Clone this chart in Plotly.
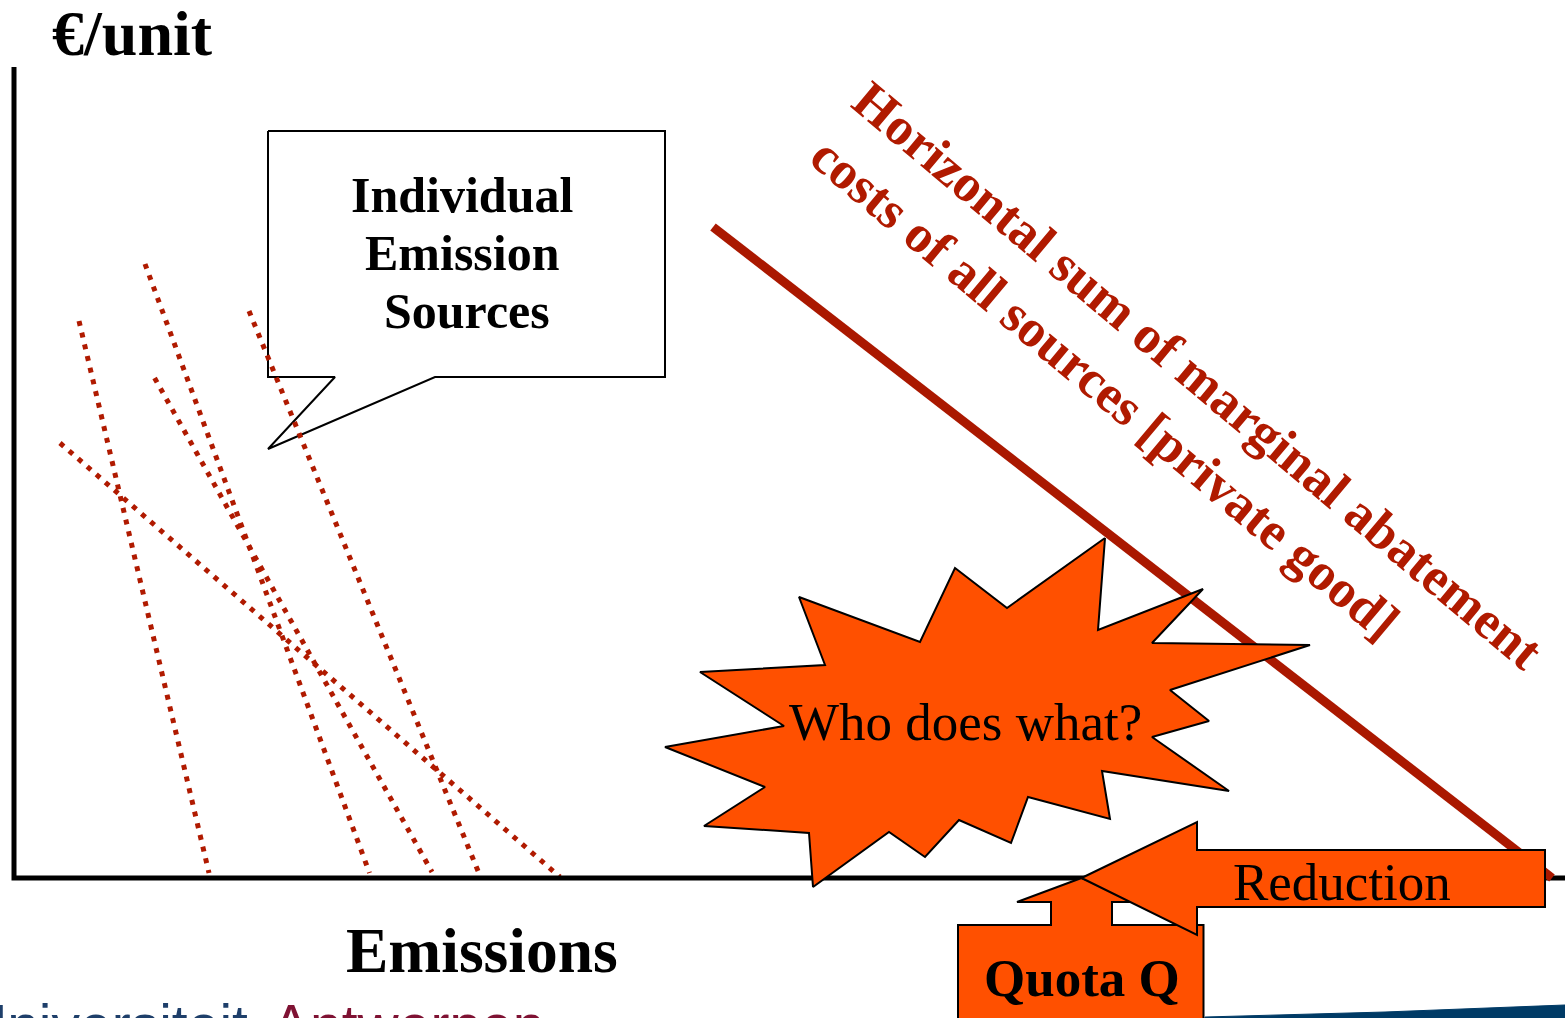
import plotly.graph_objects as go

# ---- data (emissions on x, euro/unit on y) ----
source_names = ["Source 1", "Source 2", "Source 3", "Source 4", "Source 5"]
source_emis = [[65, 195], [131, 355.5], [140.6, 418], [235, 466.5], [46, 546]]
source_cost = [[557, 5], [614, 5], [500, 6], [567, 1], [435, 1]]

total_emis = [699, 1538]
total_cost = [651, 0]

callout_x = [254, 651, 651, 421, 254, 321, 254, 254]
callout_y = [747, 747, 501, 501, 429, 501, 501, 747]

star_x = [1091, 1084, 1189, 1138, 1296, 1156, 1195, 1138, 1215, 1088, 1096, 1014, 997, 945,
          911, 875, 799, 795, 690, 751, 651, 770, 686, 811, 785, 906, 941, 993, 1091]
star_y = [340, 248, 289, 235, 233, 188, 157, 141, 87, 107, 59, 81, 35, 58,
          21, 46, -9, 45, 52, 91, 131, 152, 206, 213, 281, 236, 310, 270, 340]

reduction_x = [1067.5, 1183, 1183, 1531, 1531, 1183, 1183, 1067.5]
reduction_y = [0, 56, 28, 28, -29, -29, -57, 0]

quota_x = [1067.5, 1132, 1098, 1098, 1189.5, 1189.5, 944, 944, 1037, 1037, 1003, 1067.5]
quota_y = [0, -24, -24, -47, -47, -160, -160, -47, -47, -24, -24, 0]

swoosh_x = [1191, 1371, 1551, 1551, 1191, 1191]
swoosh_y = [-139, -134, -127, -160, -160, -139]

axis_x = [0, 0, 1551]
axis_y = [811, 0, 0]

RED = "#B01A00"
ORANGE = "#FF5000"
SERIF = "Liberation Serif, Times New Roman, serif"
SANS = "Liberation Sans, Arial, sans-serif"

fig = go.Figure()

# callout box
fig.add_trace(go.Scatter(x=callout_x, y=callout_y, mode="lines", fill="toself",
                         fillcolor="white", line=dict(color="black", width=2)))
# individual sources (dotted)
for name, ex, cy in zip(source_names, source_emis, source_cost):
    fig.add_trace(go.Scatter(x=ex, y=cy, mode="lines", name=name,
                             line=dict(color=RED, width=5, dash="5px,7px")))
# axes
fig.add_trace(go.Scatter(x=axis_x, y=axis_y, mode="lines",
                         line=dict(color="black", width=5)))
# aggregate marginal abatement cost
fig.add_trace(go.Scatter(x=total_emis, y=total_cost, mode="lines",
                         line=dict(color="#AA1800", width=9)))
# star
fig.add_trace(go.Scatter(x=star_x, y=star_y, mode="lines", fill="toself",
                         fillcolor=ORANGE, line=dict(color="black", width=2)))
# swoosh
fig.add_trace(go.Scatter(x=swoosh_x, y=swoosh_y, mode="lines", fill="toself",
                         fillcolor="#003B66", line=dict(color="#003B66", width=1)))
# quota arrow
fig.add_trace(go.Scatter(x=quota_x, y=quota_y, mode="lines", fill="toself",
                         fillcolor=ORANGE, line=dict(color="black", width=2)))
# reduction arrow
fig.add_trace(go.Scatter(x=reduction_x, y=reduction_y, mode="lines", fill="toself",
                         fillcolor=ORANGE, line=dict(color="black", width=2)))

ann = []
def add_text(txt, x, y, size, bold=False, color="black", angle=0, xanchor="center", yanchor="middle", family=SERIF):
    t = f"<b>{txt}</b>" if bold else txt
    ann.append(dict(text=t, x=x, y=y, xref="x", yref="y", showarrow=False,
                    font=dict(family=family, size=size, color=color),
                    textangle=angle, xanchor=xanchor, yanchor=yanchor))

add_text("€/unit", 118, 845, 64, bold=True)
add_text("Emissions", 468, -72, 63.5, bold=True)
add_text("Individual", 448, 683, 50, bold=True)
add_text("Emission", 448, 625, 50, bold=True)
add_text("Sources", 453, 567, 50, bold=True)
add_text("Horizontal sum of marginal abatement", 1184, 503, 53, bold=True, color=RED, angle=40)
add_text("costs of all sources [private good]", 1091, 490, 53, bold=True, color=RED, angle=40)
add_text("Who does what?", 951, 156, 53)
add_text("Reduction", 1328, -4, 53)
add_text("Quota Q", 1068, -100, 53, bold=True)
add_text("Universiteit", 236, -113, 57, color="#1E3F6A", xanchor="right", yanchor="top", family=SANS)
add_text("Antwerpen", 256, -113, 57, color="#7F1233", xanchor="left", yanchor="top", family=SANS)

fig.update_layout(
    width=1565, height=1018,
    margin=dict(l=0, r=0, t=0, b=0),
    paper_bgcolor="white", plot_bgcolor="white",
    showlegend=False, hovermode=False,
    xaxis=dict(range=[-14, 1551], visible=False, fixedrange=True),
    yaxis=dict(range=[-140, 878], visible=False, fixedrange=True),
    annotations=ann,
)

fig.write_html("out.html", config={"displayModeBar": False},
               post_script="document.body.style.margin='0';")
